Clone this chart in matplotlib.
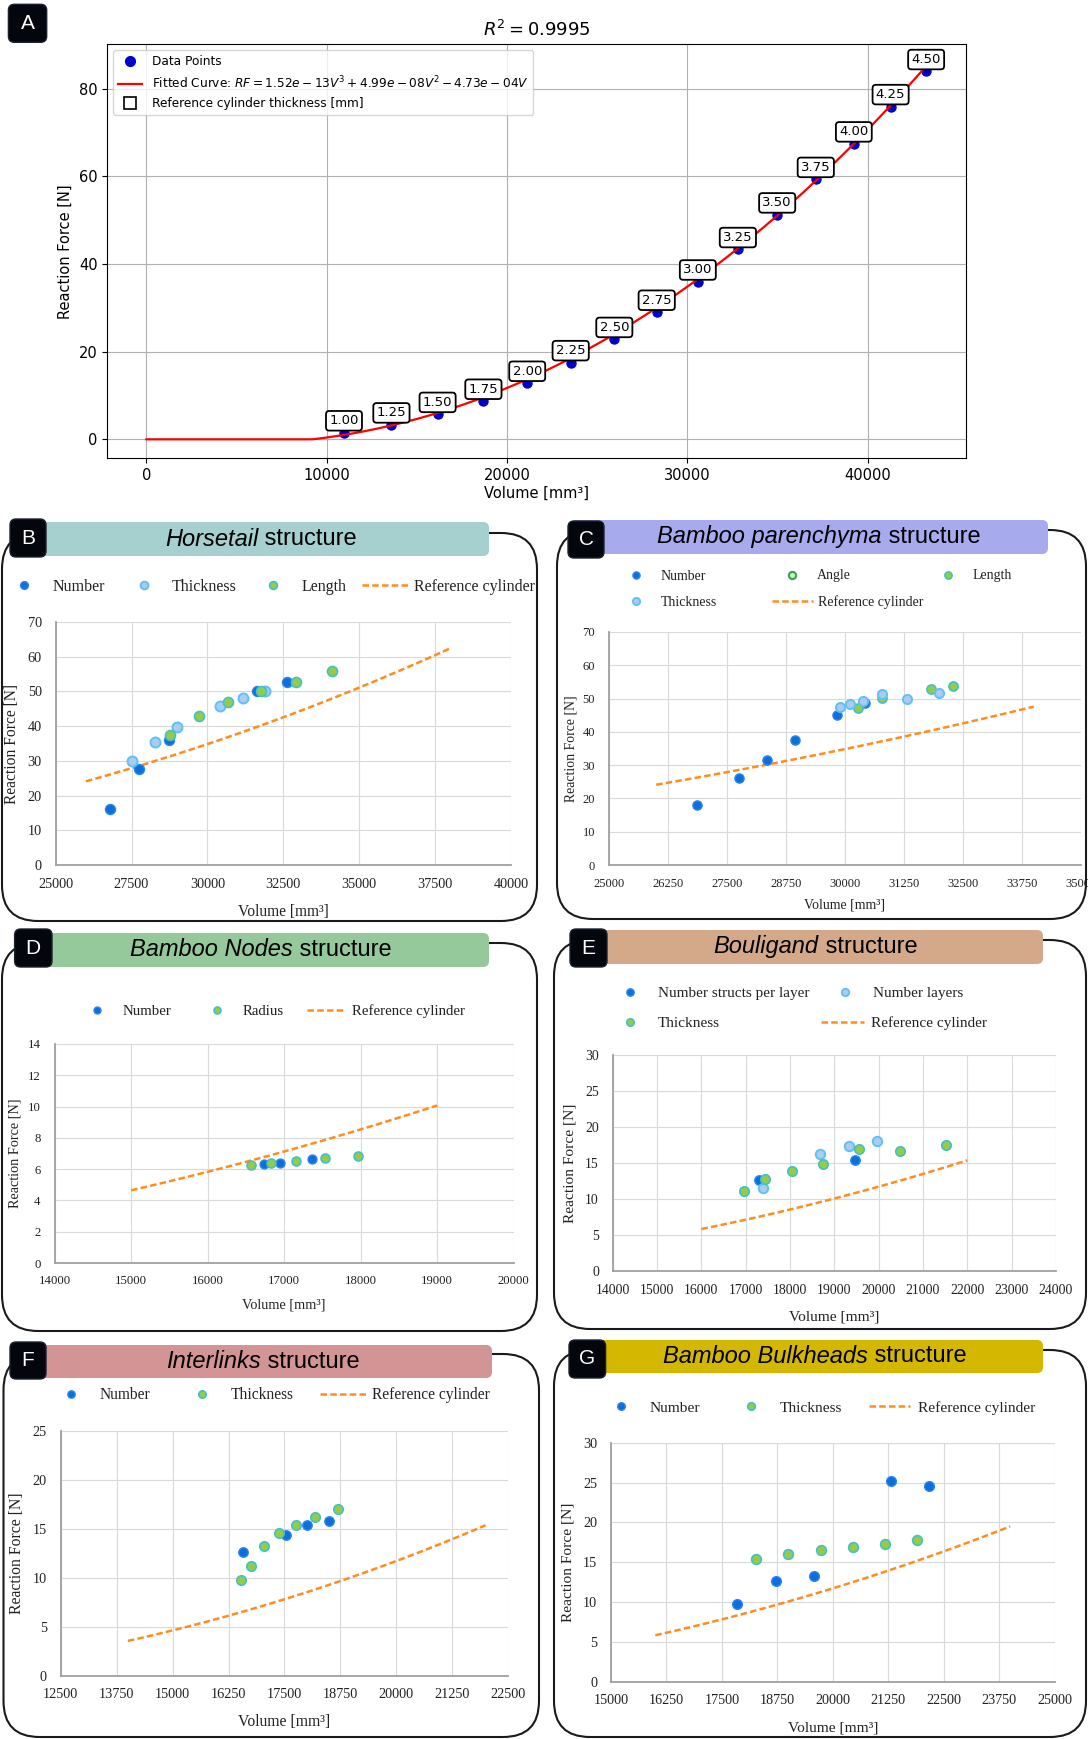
import numpy as np
import matplotlib
matplotlib.use("Agg")
from matplotlib import pyplot as plt
from matplotlib.lines import Line2D
from matplotlib.patches import FancyBboxPatch

W, H, DPI = 1088, 1739, 100
SERIF = "Liberation Serif"
SANS = "Liberation Sans"
TXT = "#222222"

# ---------------- panel A : reference cylinder ----------------
thickness_a = ["1.00", "1.25", "1.50", "1.75", "2.00", "2.25", "2.50", "2.75",
               "3.00", "3.25", "3.50", "3.75", "4.00", "4.25", "4.50"]
volume_a = [10960, 13590, 16150, 18690, 21120, 23530, 25950, 28300,
            30580, 32800, 34980, 37120, 39230, 41270, 43240]
force_a = [1.5, 3.3, 5.7, 8.7, 12.8, 17.5, 22.8, 29.0,
           35.9, 43.3, 51.2, 59.3, 67.4, 75.9, 83.9]
fit_coef = [1.52e-13, 4.99e-08, -4.73e-04, 0.0]   # RF = aV^3 + bV^2 + cV
r_squared = 0.9995

# ---------------- B : horsetail ----------------
number_b_v = [26790, 27760, 28730, 31640, 32610]
number_b_f = [16.0, 27.6, 36.1, 50.1, 52.8]
thick_b_v = [27530, 28260, 28990, 30420, 31180, 31890]
thick_b_f = [29.9, 35.3, 39.7, 45.7, 48.1, 50.1]
length_b_v = [28760, 29730, 30690, 31770, 32910, 34120]
length_b_f = [37.4, 42.9, 47.0, 50.1, 52.8, 56.0]
ref_b = (26000, 38000)

# ---------------- C : bamboo parenchyma ----------------
number_c_v = [26870, 27750, 28350, 28950, 29840, 30420]
number_c_f = [17.9, 26.0, 31.6, 37.6, 45.0, 48.6]
angle_c_v = []
angle_c_f = []
length_c_v = [30280, 30790, 31820, 32280]
length_c_f = [47.1, 50.1, 53.0, 53.8]
thick_c_v = [29890, 30110, 30390, 30790, 31320, 31990]
thick_c_f = [47.5, 48.4, 49.4, 51.4, 49.8, 51.8]
ref_c = (26000, 34000)

# ---------------- D : bamboo nodes ----------------
number_d_v = [16740, 16940, 17360]
number_d_f = [6.34, 6.42, 6.68]
radius_d_v = [16570, 16830, 17150, 17530, 17960]
radius_d_f = [6.25, 6.40, 6.55, 6.72, 6.85]
ref_d = (15000, 19000)

# ---------------- E : bouligand ----------------
nspl_e_v = [17310, 19460]
nspl_e_f = [12.6, 15.4]
nlay_e_v = [17390, 18680, 19320, 19960]
nlay_e_f = [11.5, 16.3, 17.4, 18.0]
thick_e_v = [16960, 17440, 18040, 18750, 19550, 20480, 21520]
thick_e_f = [11.1, 12.8, 13.9, 14.9, 17.0, 16.6, 17.5]
ref_e = (16000, 22000)

# ---------------- F : interlinks ----------------
number_f_v = [16570, 17530, 18000, 18500]
number_f_f = [12.6, 14.4, 15.4, 15.8]
thick_f_v = [16530, 16750, 17040, 17370, 17760, 18190, 18700]
thick_f_f = [9.8, 11.2, 13.2, 14.6, 15.4, 16.2, 17.0]
ref_f = (14000, 22000)

# ---------------- G : bamboo bulkheads ----------------
number_g_v = [17850, 18710, 19580, 21310, 22180]
number_g_f = [9.7, 12.7, 13.3, 25.2, 24.6]
thick_g_v = [18280, 19000, 19730, 20450, 21180, 21900]
thick_g_f = [15.4, 16.0, 16.5, 16.9, 17.3, 17.8]
ref_g = (16000, 24000)

STYLE = {
    "number": dict(marker="o", ls="none", mfc="#0b6fde", mec="#2b86ea", mew=1.0),
    "blue": dict(marker="o", ls="none", mfc="#a8ccf2", mec="#62c0f3", mew=1.4),
    "green": dict(marker="o", ls="none", mfc="#8fcd4b", mec="#48bfc4", mew=1.2),
    "angle": dict(marker="o", ls="none", mfc="#eef6c4", mec="#2aad4c", mew=1.6),
    "ref": dict(color="#ff8c1f", lw=1.8, ls=(0, (2.6, 1.3))),
}

fig = plt.figure(figsize=(W / DPI, H / DPI), dpi=DPI)


def px_axes(l, r, t, b):
    return fig.add_axes([l / W, 1 - b / H, (r - l) / W, (b - t) / H])


def rounded(x0, x1, y0, y1, rad, **kw):
    p = FancyBboxPatch((x0 / DPI, (H - y1) / DPI), (x1 - x0) / DPI, (y1 - y0) / DPI,
                       boxstyle=f"round,pad=0,rounding_size={rad / DPI}",
                       transform=fig.dpi_scale_trans, **kw)
    fig.add_artist(p)


def letter_box(x0, x1, y0, y1, letter):
    rounded(x0, x1, y0, y1, 6, fc="#03060c", ec="#1b2230", lw=1.0, zorder=4)
    fig.text((x0 + x1) / 2 / W, 1 - (y0 + y1) / 2 / H, letter, color="white",
             family=SANS, fontsize=15, ha="center", va="center", zorder=5)


# ================= panel A =================
axA = px_axes(107.2, 966, 44.3, 458.3)
v_fit = np.linspace(0, max(volume_a), 500)
rf_fit = np.maximum(np.polyval(fit_coef, v_fit), 0)
axA.scatter(volume_a, force_a, s=42, color="#0000cd", zorder=3)
axA.plot(v_fit, rf_fit, color="red", lw=1.6, zorder=4)
for t, v, f in zip(thickness_a, volume_a, force_a):
    axA.annotate(t, (v, f), xytext=(0, 8.6), textcoords="offset points",
                 ha="center", va="center", fontsize=9.5, zorder=5,
                 bbox=dict(boxstyle="round,pad=0.25", fc="white", ec="black", lw=1.3))
a, b, c = fit_coef[:3]
fit_label = (f"Fitted Curve: $RF = {a:.2e}V^3 + {b:.2e}V^2 - {abs(c):.2e}V$")
h_pts = Line2D([], [], marker="o", ls="none", color="#0000cd", ms=7)
h_fit = Line2D([], [], color="red", lw=1.6)
h_box = Line2D([], [], marker="s", ls="none", mfc="white", mec="black", ms=8, mew=1.2)
axA.legend([h_pts, h_fit, h_box],
           ["Data Points", fit_label, "Reference cylinder thickness [mm]"],
           loc="upper left", fontsize=8.7)
axA.set_xlim(-2170, 45450)
axA.set_ylim(-4.33, 90.1)
axA.set_xticks([0, 10000, 20000, 30000, 40000])
axA.set_yticks([0, 20, 40, 60, 80])
axA.tick_params(labelsize=10.5)
axA.grid(True)
axA.set_title(f"$R^2 = {r_squared}$", fontsize=13)
axA.set_xlabel("Volume [mm³]", fontsize=10.5, labelpad=2)
axA.set_ylabel("Reaction Force [N]", fontsize=10.5)
letter_box(8.4, 46.7, 4.3, 42.3, "A")

# ================= panels B - G =================
panels = [
    dict(letter="B", it="Horsetail", color="#a5d0cf",
         frame=(2, 537, 533, 921), head=(10, 489, 522, 556), lab=(10, 46, 519, 557),
         title_xy=(261, 539), ax_px=(55.6, 511, 622, 865),
         xlim=(25000, 40000), xstep=2500, ylim=(0, 70), ystep=10,
         ref=ref_b, ms=7.2, fs_tick=10.3, fs_lab=11.2, fs_leg=11.5,
         xlab_y=912, ylab_x=12, hl=48.5, tp=4,
         series=[("Number", "number", number_b_v, number_b_f),
                 ("Thickness", "blue", thick_b_v, thick_b_f),
                 ("Length", "green", length_b_v, length_b_f)],
         legend=[("Number", "number", 0, 586.7), ("Thickness", "blue", 119.3, 586.7),
                 ("Length", "green", 249.2, 586.7),
                 ("Reference cylinder", "ref", 361.5, 586.7)]),
    dict(letter="C", it="Bamboo parenchyma", color="#a8aaee",
         frame=(557, 1086, 530, 919), head=(570, 1048, 520, 554), lab=(568, 604, 521, 558),
         title_xy=(819, 537), ax_px=(609, 1081, 632, 865),
         xlim=(25000, 35000), xstep=1250, ylim=(0, 70), ystep=10,
         ref=ref_c, ms=6.6, fs_tick=9, fs_lab=9.9, fs_leg=10,
         xlab_y=905, ylab_x=571, hl=41, tp=4.5,
         series=[("Number", "number", number_c_v, number_c_f),
                 ("Angle", "angle", angle_c_v, angle_c_f),
                 ("Length", "green", length_c_v, length_c_f),
                 ("Thickness", "blue", thick_c_v, thick_c_f)],
         legend=[("Number", "number", 615.5, 576), ("Angle", "angle", 771.5, 576),
                 ("Length", "green", 927.5, 576), ("Thickness", "blue", 615.5, 602),
                 ("Reference cylinder", "ref", 772, 602)]),
    dict(letter="D", it="Bamboo Nodes", color="#95c99b",
         frame=(2, 537, 943, 1331), head=(14, 489, 933, 967), lab=(14.6, 52, 929, 967),
         title_xy=(261, 950), ax_px=(54.6, 513.7, 1044, 1263),
         xlim=(14000, 20000), xstep=1000, ylim=(0, 14), ystep=2,
         ref=ref_d, ms=6.4, fs_tick=9.2, fs_lab=10.3, fs_leg=10.7,
         xlab_y=1305, ylab_x=14.6, hl=39, tp=6,
         series=[("Number", "number", number_d_v, number_d_f),
                 ("Radius", "green", radius_d_v, radius_d_f)],
         legend=[("Number", "number", 77.8, 1011), ("Radius", "green", 197.4, 1011),
                 ("Reference cylinder", "ref", 306.9, 1011)]),
    dict(letter="E", it="Bouligand", color="#d4a98a",
         frame=(554, 1086, 940, 1329), head=(570, 1043, 930, 964), lab=(570, 607, 929, 967),
         title_xy=(815.5, 947), ax_px=(612.8, 1056, 1055, 1271),
         xlim=(14000, 24000), xstep=1000, ylim=(0, 30), ystep=5,
         ref=ref_e, ms=6.8, fs_tick=9.9, fs_lab=11.1, fs_leg=11,
         xlab_y=1317, ylab_x=570, hl=43, tp=7,
         series=[("Number structs per layer", "number", nspl_e_v, nspl_e_f),
                 ("Number layers", "blue", nlay_e_v, nlay_e_f),
                 ("Thickness", "green", thick_e_v, thick_e_f)],
         legend=[("Number structs per layer", "number", 608, 993.3),
                 ("Number layers", "blue", 823, 993.3),
                 ("Thickness", "green", 608, 1023.3),
                 ("Reference cylinder", "ref", 821, 1023.3)]),
    dict(letter="F", it="Interlinks", color="#d29494",
         frame=(3.5, 539, 1354, 1737), head=(10, 492, 1345, 1378), lab=(10, 46, 1342, 1379),
         title_xy=(263, 1361.5), ax_px=(60.8, 508, 1430.7, 1676),
         xlim=(12500, 22500), xstep=1250, ylim=(0, 25), ystep=5,
         ref=ref_f, ms=6.8, fs_tick=10.3, fs_lab=11.3, fs_leg=11.2,
         xlab_y=1722, ylab_x=17.4, hl=48, tp=4,
         series=[("Number", "number", number_f_v, number_f_f),
                 ("Thickness", "green", thick_f_v, thick_f_f)],
         legend=[("Number", "number", 47.3, 1395), ("Thickness", "green", 178.3, 1395),
                 ("Reference cylinder", "ref", 319.8, 1395)]),
    dict(letter="G", it="Bamboo Bulkheads", color="#d4b700",
         frame=(554, 1086, 1350, 1737), head=(569, 1043, 1340, 1373), lab=(569, 605.6, 1340, 1378),
         title_xy=(815, 1356.5), ax_px=(611, 1054.5, 1442.7, 1681.7),
         xlim=(15000, 25000), xstep=1250, ylim=(0, 30), ystep=5,
         ref=ref_g, ms=7, fs_tick=10.2, fs_lab=11.1, fs_leg=11.1,
         xlab_y=1728, ylab_x=568, hl=41, tp=8,
         series=[("Number", "number", number_g_v, number_g_f),
                 ("Thickness", "green", thick_g_v, thick_g_f)],
         legend=[("Number", "number", 600.2, 1407.7), ("Thickness", "green", 730.3, 1407.7),
                 ("Reference cylinder", "ref", 868.5, 1407.7)]),
]

renderer = fig.canvas.get_renderer()


def header_title(cx, cy, italic, rest, fs=17):
    t1 = fig.text(0, 0, italic, style="italic", family=SANS, fontsize=fs,
                  ha="left", va="center", zorder=5)
    t2 = fig.text(0, 0, rest, family=SANS, fontsize=fs, ha="left", va="center", zorder=5)
    w1 = t1.get_window_extent(renderer).width
    w2 = t2.get_window_extent(renderer).width
    x0 = cx - (w1 + w2) / 2
    t1.set_position((x0 / W, 1 - cy / H))
    t2.set_position(((x0 + w1) / W, 1 - cy / H))


for p in panels:
    l, r, t, bt = p["ax_px"]
    ax = px_axes(l, r, t, bt)
    v_ref = np.linspace(p["ref"][0], p["ref"][1], 200)
    ax.plot(v_ref, np.polyval(fit_coef, v_ref), zorder=2, **STYLE["ref"])
    for name, key, v, f in p["series"]:
        ax.plot(v, f, ms=p["ms"], zorder=3, **STYLE[key])
    ax.set_xlim(*p["xlim"])
    ax.set_ylim(*p["ylim"])
    xt = list(range(p["xlim"][0], p["xlim"][1] + 1, p["xstep"]))
    yt = list(range(p["ylim"][0], p["ylim"][1] + 1, p["ystep"]))
    ax.set_xticks(xt, labels=[str(x) for x in xt], fontfamily=SERIF,
                  fontsize=p["fs_tick"], color=TXT)
    ax.set_yticks(yt, labels=[str(y) for y in yt], fontfamily=SERIF,
                  fontsize=p["fs_tick"], color=TXT)
    ax.tick_params(axis="x", length=0, pad=9)
    ax.tick_params(axis="y", length=0, pad=10)
    ax.grid(True, color="#d9d9d9", lw=0.8)
    ax.set_axisbelow(True)
    for s in ("top", "right"):
        ax.spines[s].set_visible(False)
    for s in ("left", "bottom"):
        ax.spines[s].set_color("#a0a0a0")
        ax.spines[s].set_linewidth(1.3)
    ax.set_xlabel("Volume [mm³]", fontfamily=SERIF, fontsize=p["fs_lab"], color=TXT)
    ax.xaxis.set_label_coords(0.5, (bt - p["xlab_y"]) / (bt - t))
    ax.xaxis.label.set_verticalalignment("center")
    ax.set_ylabel("Reaction Force [N]", fontfamily=SERIF, fontsize=p["fs_lab"], color=TXT)
    ax.yaxis.set_label_coords((p["ylab_x"] - l) / (r - l), 0.5)
    ax.yaxis.label.set_verticalalignment("center")

    # legend entries placed one by one, like the spreadsheet layout
    em = p["fs_leg"] * DPI / 72
    for name, key, lx, ly in p["legend"]:
        if key == "ref":
            h = Line2D([], [], **STYLE["ref"])
        else:
            h = Line2D([], [], ms=p["ms"] * 0.78, **STYLE[key])
        fig.legend([h], [name], loc="center left", bbox_to_anchor=(lx / W, 1 - ly / H),
                   frameon=False, borderpad=0, borderaxespad=0,
                   handlelength=p["hl"] / em, handletextpad=p["tp"] / em,
                   prop={"family": SERIF, "size": p["fs_leg"]}, labelcolor=TXT)

    # frame, coloured header and letter box
    fx0, fx1, fy0, fy1 = p["frame"]
    rounded(fx0, fx1, fy0, fy1, 36, fc="none", ec="#1a1a1a", lw=1.5, zorder=1)
    hx0, hx1, hy0, hy1 = p["head"]
    rounded(hx0, hx1, hy0, hy1, 6, fc=p["color"], ec="none", zorder=2)
    header_title(p["title_xy"][0], p["title_xy"][1], p["it"], " structure")
    letter_box(*p["lab"], p["letter"])

fig.savefig("out.png", dpi=DPI)
